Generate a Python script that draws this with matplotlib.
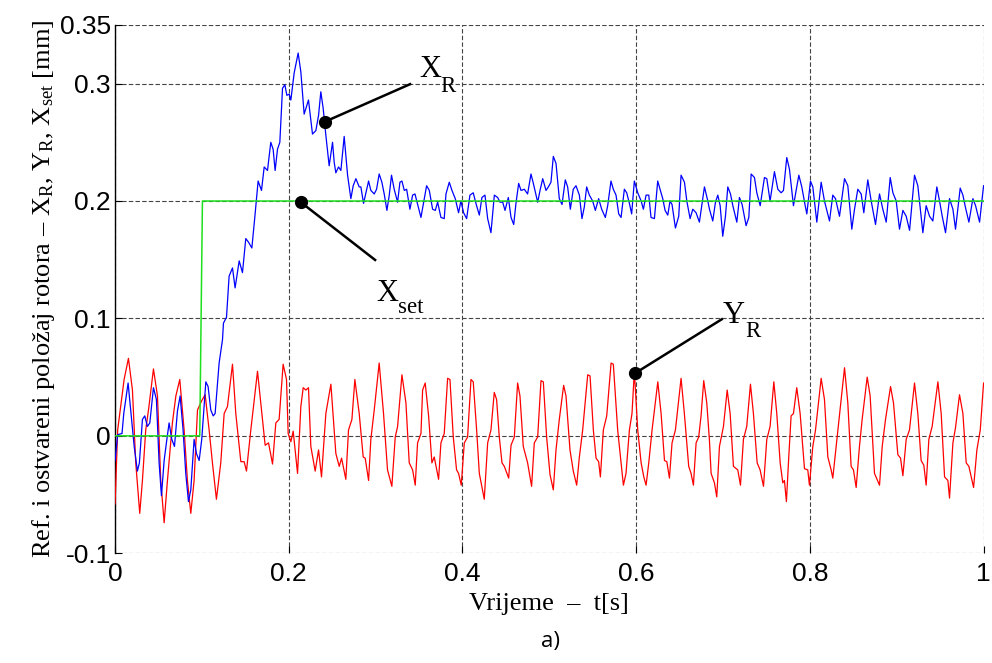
import matplotlib
matplotlib.use('Agg')
import matplotlib.pyplot as plt

# values
# Y_R - red oscillation
t_y = [0.000, 0.003, 0.0065, 0.0104, 0.0154, 0.020, 0.0238, 0.0284, 0.0315, 0.0353,
       0.039, 0.0442, 0.0488, 0.0526, 0.0565, 0.0603, 0.066, 0.070, 0.0745, 0.0795,
       0.0833, 0.0872, 0.091, 0.0949, 0.0998, 0.1037, 0.1083, 0.1121, 0.1167, 0.1217,
       0.1256, 0.1294, 0.1352, 0.139, 0.1448, 0.1486, 0.1513, 0.1563, 0.164, 0.1678,
       0.1728, 0.1767, 0.1813, 0.1851, 0.1889, 0.1935, 0.1974, 0.1993, 0.2024, 0.2051,
       0.2101, 0.2139, 0.2166, 0.2197, 0.2227, 0.2254, 0.2304, 0.2343, 0.2377, 0.2427,
       0.2485, 0.2542, 0.2581, 0.2608, 0.2657, 0.2688, 0.2727, 0.2761, 0.2811, 0.2857,
       0.288, 0.2919, 0.2945, 0.2984, 0.3041, 0.3091, 0.3137, 0.3187, 0.3226, 0.3253,
       0.3303, 0.3349, 0.3387, 0.3426, 0.3456, 0.3483, 0.3522, 0.3541, 0.3571, 0.3610,
       0.3648, 0.3675, 0.3725, 0.3752, 0.3790, 0.3829, 0.3856, 0.3894, 0.3932, 0.3955,
       0.3986, 0.4021, 0.4059, 0.4098, 0.4124, 0.4163, 0.4194, 0.4251, 0.4290, 0.4328,
       0.4366, 0.4393, 0.4424, 0.4455, 0.4482, 0.4532, 0.4559, 0.4597, 0.4635, 0.4662,
       0.4700, 0.4750, 0.4796, 0.4827, 0.4866, 0.4904, 0.4931, 0.4969, 0.5008, 0.5046,
       0.5077, 0.5115, 0.5165, 0.5192, 0.5238, 0.5276, 0.5315, 0.5346, 0.5384, 0.5442,
       0.5469, 0.5507, 0.5538, 0.5568, 0.5588, 0.5622, 0.5661, 0.5711, 0.5737, 0.5787,
       0.5826, 0.5853, 0.5883, 0.5922, 0.5952, 0.5979, 0.6018, 0.6057, 0.6088, 0.6114,
       0.6145, 0.6183, 0.6249, 0.6287, 0.6326, 0.6353, 0.6383, 0.6413, 0.6452, 0.6517,
       0.6555, 0.6605, 0.6632, 0.6659, 0.6690, 0.6720, 0.6747, 0.6778, 0.6813, 0.6843,
       0.6863, 0.6901, 0.6928, 0.6959, 0.7005, 0.7048, 0.7082, 0.7120, 0.7170, 0.7201,
       0.7235, 0.7273, 0.7316, 0.7350, 0.7393, 0.7427, 0.7466, 0.7504, 0.7542, 0.7585,
       0.7619, 0.7658, 0.7688, 0.7707, 0.7730, 0.7757, 0.7784, 0.7811, 0.7849, 0.7888,
       0.7938, 0.7976, 0.7995, 0.8034, 0.8065, 0.8130, 0.8168, 0.8207, 0.8245, 0.8264,
       0.8303, 0.8333, 0.8399, 0.8437, 0.8475, 0.8502, 0.8533, 0.8571, 0.8602, 0.8660,
       0.8694, 0.8744, 0.8802, 0.8833, 0.8871, 0.8929, 0.8963, 0.9013, 0.9044, 0.9071,
       0.9109, 0.9147, 0.9205, 0.9243, 0.9281, 0.9312, 0.9339, 0.9370, 0.9408, 0.9474,
       0.9512, 0.9551, 0.9589, 0.9608, 0.9647, 0.9677, 0.9723, 0.9762, 0.9800, 0.9831,
       0.9885, 0.9923, 0.9962, 1.000]
y_r = [-0.058, 0.005, 0.025, 0.048, 0.066, 0.039, -0.023, -0.066, -0.038, 0.005,
       0.025, 0.057, 0.034, -0.038, -0.074, -0.038, 0.011, 0.034, 0.048, 0.005,
       -0.038, -0.066, -0.038, 0.022, 0.030, 0.035, 0.005, -0.023, -0.054, -0.023,
       0.019, 0.025, 0.061, 0.019, -0.022, -0.022, -0.030, 0.005, 0.055, 0.028,
       -0.008, -0.006, -0.024, 0.011, 0.014, 0.061, 0.048, 0.002, -0.005, 0.004,
       -0.032, 0.025, 0.041, 0.039, 0.041, -0.009, -0.030, -0.012, -0.035, 0.019,
       0.044, -0.015, -0.026, -0.019, -0.037, 0.005, 0.014, 0.048, 0.019, -0.018,
       -0.019, -0.038, -0.003, 0.022, 0.062, 0.019, -0.029, -0.043, -0.001, 0.008,
       0.052, 0.028, -0.023, -0.029, -0.042, -0.006, 0.002, 0.039, 0.045, 0.017,
       -0.023, -0.018, -0.037, -0.006, 0.002, 0.049, 0.048, -0.001, -0.029, -0.032,
       -0.042, -0.006, -0.001, 0.048, 0.046, 0.005, -0.032, -0.054, -0.006, 0.005,
       0.037, 0.031, -0.001, -0.023, -0.026, -0.036, -0.008, -0.001, 0.045, 0.034,
       -0.009, -0.023, -0.043, -0.006, -0.001, 0.047, 0.046, -0.001, -0.033, -0.046,
       -0.012, 0.014, 0.043, 0.034, -0.012, -0.030, -0.042, -0.018, 0.005, 0.052,
       0.051, 0.005, -0.019, -0.022, -0.035, 0.005, 0.017, 0.062, 0.061, 0.005,
       -0.023, -0.042, -0.032, 0.005, 0.019, 0.055, 0.005, -0.023, -0.035, -0.042,
       -0.023, 0.005, 0.046, 0.019, -0.021, -0.022, -0.036, -0.006, 0.005, 0.049,
       0.019, -0.026, -0.032, -0.042, -0.006, -0.001, 0.017, 0.047, 0.028, -0.003,
       -0.032, -0.040, -0.052, -0.009, 0.008, 0.039, 0.019, -0.026, -0.029, -0.042,
       -0.003, 0.008, 0.044, 0.019, -0.023, -0.029, -0.043, -0.003, 0.008, 0.046,
       0.019, -0.023, -0.040, -0.038, -0.056, -0.018, 0.017, 0.019, 0.041, 0.019,
       -0.028, -0.029, -0.042, -0.009, 0.005, 0.049, 0.031, -0.018, -0.029, -0.036,
       -0.009, 0.011, 0.058, 0.028, -0.026, -0.029, -0.044, -0.009, 0.014, 0.050,
       0.034, -0.032, -0.042, -0.009, 0.014, 0.042, 0.028, -0.016, -0.019, -0.034,
       -0.003, 0.005, 0.045, 0.019, -0.021, -0.025, -0.042, -0.003, 0.008, 0.046,
       0.019, -0.035, -0.038, -0.053, -0.006, 0.007, 0.035, 0.019, -0.023, -0.026,
       -0.044, -0.012, 0.005, 0.045]

# X_R - blue response
t_x = [0.000, 0.003, 0.008, 0.010, 0.015, 0.019, 0.022, 0.0257, 0.028, 0.0315,
       0.0342, 0.0372, 0.040, 0.0442, 0.0476, 0.0507, 0.0534, 0.0565, 0.0591, 0.0622,
       0.0653, 0.0684, 0.0718, 0.0749, 0.0783, 0.0814, 0.0845, 0.0872, 0.091, 0.0937,
       0.0968, 0.0998, 0.1045, 0.1071, 0.1102, 0.113, 0.1152, 0.1198, 0.1237, 0.1248,
       0.1283, 0.1313, 0.1352, 0.1382, 0.1429, 0.1467, 0.1505, 0.1536, 0.1575, 0.161,
       0.1647, 0.1686, 0.1717, 0.1755, 0.1793, 0.182, 0.1843, 0.187, 0.1897, 0.1928,
       0.1955, 0.1978, 0.2005, 0.2024, 0.2062, 0.2108, 0.2139, 0.2177, 0.2227, 0.2273,
       0.2312, 0.2343, 0.2369, 0.2396, 0.2427, 0.2465, 0.2504, 0.2523, 0.2542, 0.2573,
       0.2600, 0.2638, 0.2677, 0.2715, 0.2742, 0.2773, 0.2811, 0.2830, 0.2861, 0.2888,
       0.2919, 0.2945, 0.2984, 0.3011, 0.3041, 0.3072, 0.3099, 0.3130, 0.3157, 0.3183,
       0.3214, 0.3253, 0.3280, 0.3303, 0.3330, 0.3357, 0.3395, 0.3426, 0.3453, 0.3484,
       0.3522, 0.3560, 0.3587, 0.3618, 0.3656, 0.3687, 0.3714, 0.3752, 0.3790, 0.3810,
       0.3848, 0.3879, 0.3917, 0.3955, 0.3982, 0.4013, 0.4048, 0.4086, 0.4124, 0.4155,
       0.4194, 0.4224, 0.4259, 0.4290, 0.4328, 0.4367, 0.4405, 0.4432, 0.4463, 0.4490,
       0.4528, 0.4559, 0.4590, 0.4616, 0.4647, 0.4674, 0.4712, 0.4750, 0.4789, 0.4816,
       0.4866, 0.4893, 0.4924, 0.4962, 0.4989, 0.5019, 0.5046, 0.5077, 0.5115, 0.5146,
       0.5184, 0.5211, 0.5242, 0.5276, 0.5307, 0.5346, 0.5376, 0.5403, 0.5430, 0.5461,
       0.5499, 0.5530, 0.5568, 0.5603, 0.5645, 0.5672, 0.5710, 0.5737, 0.5768, 0.5799,
       0.5826, 0.5864, 0.5891, 0.5922, 0.5948, 0.5979, 0.6018, 0.6057, 0.6083, 0.6114,
       0.6145, 0.6171, 0.6210, 0.6248, 0.6275, 0.6306, 0.6333, 0.6364, 0.6390, 0.6413,
       0.6452, 0.6490, 0.6517, 0.6556, 0.6583, 0.6621, 0.6652, 0.6690, 0.6728, 0.6786,
       0.6825, 0.6844, 0.6882, 0.6913, 0.6940, 0.6967, 0.6997, 0.7028, 0.7055, 0.7086,
       0.7113, 0.7159, 0.7189, 0.7220, 0.7266, 0.7297, 0.7324, 0.7362, 0.7389, 0.7428,
       0.7477, 0.7504, 0.7542, 0.7592, 0.7631, 0.7669, 0.7696, 0.7734, 0.7765, 0.7811,
       0.7842, 0.7873, 0.7907, 0.7946, 0.7965, 0.8007, 0.8034, 0.8080, 0.8130, 0.8168,
       0.8226, 0.8264, 0.8295, 0.8341, 0.8399, 0.8437, 0.8483, 0.8514, 0.8552, 0.8591,
       0.8621, 0.8667, 0.8706, 0.8756, 0.8802, 0.8840, 0.8879, 0.8925, 0.8956, 0.8994,
       0.9032, 0.9071, 0.9109, 0.9148, 0.9205, 0.9243, 0.9301, 0.9339, 0.9378, 0.9416,
       0.9462, 0.9493, 0.9524, 0.9562, 0.9608, 0.9647, 0.9677, 0.9731, 0.9762, 0.9793,
       0.9831, 0.9877, 0.9908, 0.9954, 1.000]
x_r = [-0.021, 0.001, 0.002, 0.019, 0.045, 0.014, -0.009, -0.030, -0.023, 0.014,
       0.017, 0.008, 0.011, 0.041, 0.031, -0.023, -0.051, -0.021, -0.006, 0.011,
       -0.003, -0.009, 0.021, 0.034, 0.005, -0.032, -0.056, -0.046, -0.003, -0.015,
       -0.021, -0.003, 0.046, 0.042, 0.022, 0.017, 0.019, 0.062, 0.082, 0.096,
       0.101, 0.136, 0.143, 0.126, 0.149, 0.139, 0.168, 0.165, 0.160, 0.187,
       0.217, 0.209, 0.229, 0.226, 0.250, 0.244, 0.226, 0.244, 0.250, 0.296,
       0.299, 0.290, 0.291, 0.286, 0.309, 0.326, 0.310, 0.274, 0.286, 0.257,
       0.260, 0.273, 0.293, 0.279, 0.256, 0.230, 0.250, 0.233, 0.224, 0.229,
       0.226, 0.255, 0.222, 0.202, 0.213, 0.219, 0.212, 0.212, 0.198, 0.207,
       0.217, 0.209, 0.206, 0.210, 0.223, 0.216, 0.206, 0.192, 0.205, 0.222,
       0.210, 0.199, 0.216, 0.217, 0.209, 0.210, 0.193, 0.205, 0.206, 0.197,
       0.186, 0.202, 0.213, 0.209, 0.193, 0.192, 0.199, 0.186, 0.185, 0.206,
       0.216, 0.209, 0.202, 0.190, 0.200, 0.190, 0.185, 0.205, 0.207, 0.198,
       0.188, 0.203, 0.205, 0.185, 0.173, 0.205, 0.203, 0.199, 0.199, 0.192,
       0.203, 0.186, 0.180, 0.198, 0.215, 0.209, 0.210, 0.206, 0.223, 0.215,
       0.199, 0.209, 0.219, 0.209, 0.212, 0.216, 0.238, 0.232, 0.202, 0.197,
       0.218, 0.212, 0.193, 0.210, 0.213, 0.205, 0.185, 0.195, 0.212, 0.205,
       0.200, 0.192, 0.202, 0.193, 0.186, 0.196, 0.217, 0.210, 0.205, 0.189,
       0.186, 0.210, 0.207, 0.198, 0.189, 0.217, 0.207, 0.200, 0.193, 0.205,
       0.205, 0.186, 0.185, 0.217, 0.210, 0.202, 0.192, 0.188, 0.200, 0.197,
       0.177, 0.187, 0.222, 0.216, 0.200, 0.185, 0.193, 0.190, 0.182, 0.212,
       0.200, 0.193, 0.183, 0.199, 0.205, 0.196, 0.170, 0.187, 0.212, 0.206,
       0.196, 0.182, 0.203, 0.197, 0.179, 0.186, 0.223, 0.220, 0.207, 0.196,
       0.220, 0.219, 0.200, 0.225, 0.210, 0.207, 0.209, 0.237, 0.227, 0.196,
       0.209, 0.222, 0.212, 0.196, 0.189, 0.217, 0.212, 0.182, 0.216, 0.200,
       0.183, 0.205, 0.202, 0.187, 0.219, 0.213, 0.176, 0.193, 0.210, 0.206,
       0.190, 0.218, 0.200, 0.180, 0.206, 0.193, 0.182, 0.220, 0.207, 0.200,
       0.176, 0.192, 0.187, 0.175, 0.222, 0.213, 0.173, 0.196, 0.187, 0.183,
       0.212, 0.200, 0.187, 0.173, 0.202, 0.193, 0.176, 0.211, 0.205, 0.194,
       0.182, 0.202, 0.196, 0.182, 0.213]

# X_set - green reference step
t_set = [0.0, 0.0975, 0.1006, 1.0]
x_set = [0.0, 0.0, 0.2, 0.2]

x_ticks = [0, 0.2, 0.4, 0.6, 0.8, 1]
x_tick_labels = ['0', '0.2', '0.4', '0.6', '0.8', '1']
y_ticks = [-0.1, 0, 0.1, 0.2, 0.3, 0.35]
y_tick_labels = ['-0.1', '0', '0.1', '0.2', '0.3', '0.35']

# marked points on the curves and their names
mark_t = [0.2418, 0.2138, 0.5987]
mark_v = [0.2676, 0.1990, 0.0533]
mark_main = ['X', 'X', 'Y']
mark_sub = ['R', 'set', 'R']


def main():
    plt.rcParams['mathtext.fontset'] = 'custom'
    plt.rcParams['mathtext.rm'] = 'Liberation Serif'
    plt.rcParams['mathtext.it'] = 'Liberation Serif:italic'

    fig = plt.figure(figsize=(9.92, 6.63), dpi=100)
    ax = fig.add_axes([0.116, 0.1655, 0.8755, 0.797])

    ax.plot(t_y, y_r, color='#ff0000', lw=0.9, zorder=3)
    ax.plot(t_x, x_r, color='#0000ff', lw=0.9, zorder=4)
    ax.plot(t_set, x_set, color='#1ee01e', lw=1.1, zorder=5)

    # leader line ends / label anchors (data units)
    leader_end = [(0.3397, 0.2995), (0.2994, 0.1498), (0.6986, 0.0993)]
    big_at = [(0.3503, 0.306), (0.3005, 0.1152), (0.6996, 0.0964)]
    small_at = [(0.3750, 0.2932), (0.3262, 0.1049), (0.7254, 0.0840)]
    for i in range(len(mark_t)):
        ax.plot([mark_t[i], leader_end[i][0]], [mark_v[i], leader_end[i][1]],
                color='black', lw=1.8, zorder=6)
        ax.plot(mark_t[i], mark_v[i], 'o', color='black', ms=8.5, zorder=7)
        ax.text(big_at[i][0], big_at[i][1], mark_main[i], fontfamily='Liberation Serif',
                fontsize=22, va='baseline', ha='left', zorder=8)
        ax.text(small_at[i][0], small_at[i][1], mark_sub[i], fontfamily='Liberation Serif',
                fontsize=16.5, va='baseline', ha='left', zorder=8)

    ax.set_xlim(0, 1)
    ax.set_ylim(-0.1, 0.35)
    ax.set_xticks(x_ticks)
    ax.set_yticks(y_ticks)
    ax.set_xticklabels(x_tick_labels)
    ax.set_yticklabels(y_tick_labels)
    for lab in ax.get_xticklabels() + ax.get_yticklabels():
        lab.set_fontfamily('Liberation Sans')
        lab.set_fontsize(19)
    ax.tick_params(direction='in', length=5, width=0.8, pad=3)
    ax.tick_params(axis='x', pad=6)

    ax.grid(True, linestyle=(0, (4, 2)), color='#444444', lw=0.8)
    ax.set_axisbelow(True)
    for side in ['top', 'right', 'bottom']:
        ax.spines[side].set_visible(False)
    ax.spines['left'].set_linewidth(1.0)

    ax.set_xlabel('Vrijeme  –  t[s]', fontfamily='Liberation Serif', fontsize=19, labelpad=5)
    ax.set_ylabel(r'Ref. i ostvareni položaj rotora – $\mathrm{X}_{\mathrm{R}}$, '
                  r'$\mathrm{Y}_{\mathrm{R}}$, $\mathrm{X}_{\mathrm{set}}$ [mm]',
                  fontfamily='Liberation Serif', fontsize=19, labelpad=2)

    fig.text(0.555, 0.033, 'a)', fontfamily='Open Sans', fontsize=16, ha='center', va='center')

    fig.savefig('out.png', dpi=100)


if __name__ == '__main__':
    main()
